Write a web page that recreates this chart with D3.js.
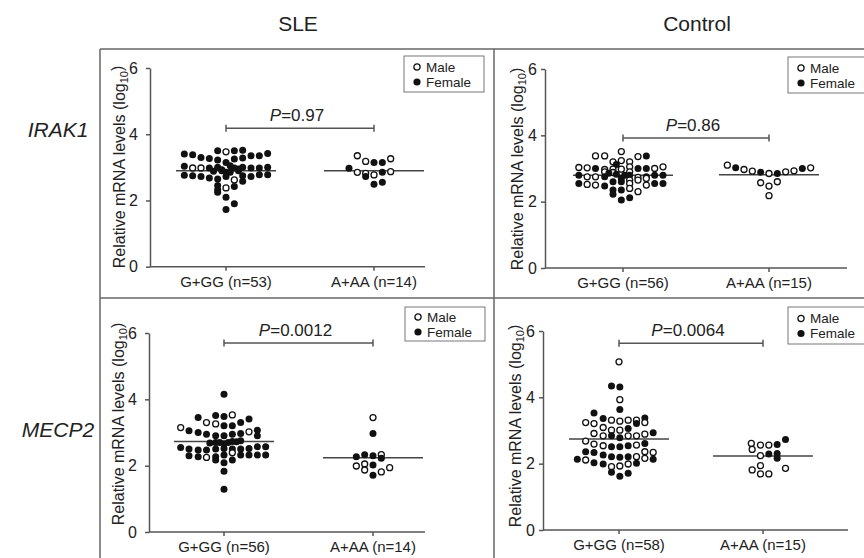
<!DOCTYPE html>
<html>
<head>
<meta charset="utf-8">
<script src="https://cdn.jsdelivr.net/npm/d3@7"></script>
<style>
  body { margin: 0; background: #fff; }
  svg { font-family: "Liberation Sans", Arial, sans-serif; }
</style>
</head>
<body>
<div id="chart"></div>
<script>
// genotype groups on the x axis
var categories = ["G+GG", "A+AA"];
var groups = ["SLE", "Control"];
var genes = ["IRAK1", "MECP2"];
var yTicks = [0, 2, 4, 6];

// group sizes
var sleIrak1N = [53, 14];
var ctrlIrak1N = [56, 15];
var sleMecp2N = [56, 14];
var ctrlMecp2N = [58, 15];

// medians (horizontal bars)
var sleIrak1Median = [2.9, 2.9];
var ctrlIrak1Median = [2.8, 2.81];
var sleMecp2Median = [2.73, 2.24];
var ctrlMecp2Median = [2.74, 2.23];

// p values and height of the comparison bracket
var pValues = ["0.97", "0.86", "0.0012", "0.0064"];
var bracketLevels = [4.18, 3.92, 5.7, 5.63];

// points: [column in the scatter, log10 level, sex] m = male (open), f = female (filled)
var sleIrak1GG = [
  [-5,3.40,'f'],[-4,3.38,'f'],[-3,3.30,'f'],[-2,3.27,'f'],[-1,3.50,'f'],[0,3.47,'m'],[1,3.50,'f'],[2,3.52,'f'],[3,3.35,'f'],[4,3.35,'f'],[5,3.42,'f'],
  [-1,3.22,'f'],[0,3.15,'f'],[1,3.25,'f'],[2,3.28,'f'],
  [-5,3.03,'f'],[-4,2.98,'m'],[-3,2.98,'m'],[-2,2.98,'f'],[-1,3.0,'f'],[-0.5,2.93,'f'],[0.5,3.05,'f'],[1,2.98,'f'],[1.5,2.95,'f'],[2,3.0,'f'],[3,2.98,'f'],[4,2.98,'f'],[5,3.0,'f'],
  [-1.5,2.88,'f'],[0,2.85,'f'],[-0.5,2.9,'f'],[0.5,2.85,'f'],[1.5,2.9,'f'],
  [-5,2.76,'f'],[-4,2.75,'f'],[-3,2.72,'f'],[-2,2.68,'f'],[-1,2.65,'f'],[0,2.72,'f'],[1,2.62,'m'],[2,2.75,'f'],[3,2.72,'f'],[4,2.78,'f'],[5,2.78,'f'],
  [-1,2.45,'f'],[-1,2.32,'f'],[-1,2.25,'f'],[0,2.38,'m'],[1,2.42,'f'],[0,2.1,'f'],[1,1.9,'f'],[0,1.73,'f'],[2,2.58,'f']
];
var sleIrak1AA = [
  [-3,2.97,'f'],[-2,3.35,'m'],[-1,3.18,'m'],[0,3.15,'f'],[1,3.15,'f'],[2,3.26,'m'],
  [-2,2.85,'m'],[-1,2.82,'m'],[0,2.77,'m'],[1,2.85,'f'],[2,2.87,'m'],
  [-1,2.72,'f'],[0,2.49,'f'],[1,2.55,'f']
];
var ctrlIrak1GG = [
  [-3.3,3.38,'m'],[-2.2,3.38,'m'],[-0.2,3.51,'m'],[1.8,3.36,'m'],[2.8,3.38,'f'],
  [-1.2,3.2,'m'],[-0.2,3.24,'m'],[0.8,3.2,'m'],[-0.8,3.12,'f'],[0.8,3.05,'m'],
  [-5.3,3.03,'m'],[-4.3,3.02,'m'],[-3.3,3.0,'f'],[-2.2,2.97,'m'],[-1.2,2.98,'m'],[-0.2,2.98,'m'],[1.8,3.0,'f'],[2.8,3.0,'f'],[3.8,3.0,'m'],[4.8,3.05,'m'],
  [-2.2,2.9,'m'],[-1.2,2.88,'m'],[0.8,2.9,'m'],
  [-5.3,2.8,'f'],[-4.3,2.75,'m'],[-3.3,2.75,'m'],[-2.2,2.75,'f'],[-1.7,2.86,'f'],[-0.8,2.83,'f'],[0.2,2.8,'f'],[0.8,2.8,'f'],[1.8,2.73,'m'],[2.8,2.75,'f'],[3.8,2.8,'f'],[4.8,2.8,'f'],
  [-0.2,2.7,'f'],[2.8,2.7,'m'],
  [-5.3,2.55,'f'],[-4.3,2.52,'m'],[-3.3,2.5,'m'],[-2.2,2.47,'f'],[-1.2,2.6,'f'],[-0.2,2.6,'f'],[0.8,2.65,'m'],[1.8,2.65,'m'],[2.8,2.5,'m'],[3.8,2.55,'f'],[4.8,2.55,'f'],[0.8,2.55,'m'],
  [-1.2,2.35,'f'],[0.8,2.4,'m'],[1.8,2.3,'m'],[-0.2,2.35,'f'],
  [-1.2,2.22,'f'],
  [-0.2,2.05,'f'],[0.8,2.12,'f']
];
var ctrlIrak1AA = [
  [-5,3.1,'m'],[-4,3.02,'f'],[-3,2.97,'m'],[-2,2.92,'m'],[-1,2.89,'f'],[0,2.85,'m'],[1,2.85,'f'],[2,2.9,'m'],[3,2.93,'m'],[4,3.0,'f'],[5,3.02,'m'],
  [-1,2.57,'m'],[0,2.47,'m'],[1,2.6,'m'],[0,2.18,'m']
];
var sleMecp2GG = [
  [0,4.15,'f'],
  [-3.1,3.45,'f'],[-1,3.51,'f'],[0,3.48,'f'],[1,3.53,'m'],[3,3.41,'f'],
  [-5.2,3.15,'m'],[-4.2,3.05,'f'],[-2.1,3.3,'m'],[-1,3.26,'m'],[0,3.2,'f'],[1,3.2,'f'],[2,3.3,'f'],[3,3.02,'m'],[4,3.07,'f'],
  [-3.1,3.0,'f'],[-2.1,2.95,'f'],[-1,2.9,'f'],[0,2.9,'f'],[1,2.95,'f'],[2,2.97,'f'],[4,2.9,'f'],
  [-1.7,2.68,'f'],[-1,2.7,'f'],[-0.5,2.7,'f'],[0,2.66,'f'],[0.5,2.7,'f'],[1,2.73,'f'],[1.5,2.72,'f'],[2,2.75,'f'],
  [-5.2,2.55,'f'],[-4.2,2.5,'f'],[-3.1,2.47,'f'],[-2.1,2.47,'f'],[-1,2.5,'f'],[0,2.52,'f'],[1,2.5,'f'],[2,2.5,'f'],[3,2.52,'f'],[4,2.57,'f'],[5,2.57,'f'],
  [-4.2,2.3,'f'],[-3.1,2.27,'f'],[-2.1,2.25,'m'],[-1,2.27,'f'],[0,2.32,'f'],[1,2.39,'m'],[2,2.32,'f'],[3,2.32,'f'],[4,2.32,'f'],[5,2.32,'f'],
  [-1,2.17,'f'],[0,2.09,'f'],[1,2.17,'f'],
  [0,1.83,'f'],
  [0,1.29,'f']
];
var sleMecp2AA = [
  [0,3.45,'m'],[0,2.97,'f'],
  [-2,2.27,'f'],[-1,2.33,'f'],[0,2.3,'f'],[1,2.33,'m'],[1,2.22,'f'],
  [-2,1.99,'m'],[-1,2.05,'m'],[0,2.02,'f'],[-1,1.87,'m'],[1,1.81,'m'],[2,1.94,'m'],
  [0,1.71,'f']
];
var ctrlMecp2GG = [
  [0,5.07,'m'],[-0.9,4.34,'f'],[0.1,4.31,'f'],[0.1,3.93,'m'],[0.1,3.63,'f'],[-3,3.53,'f'],
  [-4,3.24,'m'],[-3,3.21,'m'],[-1.9,3.36,'f'],[-0.9,3.31,'m'],[0.1,3.28,'m'],[1.1,3.31,'m'],[2.1,3.31,'m'],[2.1,3.21,'f'],[3.1,3.38,'f'],[3.1,3.24,'m'],
  [-1.9,3.09,'m'],[-0.9,3.01,'m'],[0.1,3.01,'m'],[1.1,3.06,'f'],[4.1,2.93,'f'],
  [-3,2.91,'m'],[-1.9,2.84,'m'],[-0.9,2.84,'f'],[1.1,2.84,'m'],[0.1,2.78,'f'],[2.1,2.84,'m'],[3.1,2.89,'m'],
  [-4,2.68,'m'],[-3,2.59,'m'],[-1.9,2.54,'m'],[-0.9,2.51,'f'],[0.1,2.51,'f'],[1.1,2.54,'f'],[2.1,2.56,'m'],[3.1,2.61,'f'],
  [-4,2.36,'f'],[-3,2.34,'f'],[3.1,2.36,'m'],[4.1,2.34,'m'],
  [-1.9,2.26,'f'],[-0.9,2.21,'f'],[0.1,2.19,'f'],[1.1,2.21,'f'],[2.1,2.21,'m'],[3.1,2.16,'m'],
  [-5,2.13,'f'],[-4,2.11,'m'],[4.1,2.13,'f'],
  [-3,2.03,'f'],[-1.9,1.99,'f'],[-0.9,1.91,'m'],[0.1,1.93,'m'],[1.1,1.99,'m'],[2.1,2.01,'f'],
  [-0.9,1.74,'f'],[1.1,1.71,'f'],[0.1,1.62,'f']
];
var ctrlMecp2AA = [
  [-1.4,2.61,'m'],[-0.3,2.56,'m'],[0.7,2.56,'m'],[1.7,2.58,'f'],[2.7,2.73,'f'],
  [-1.3,2.43,'m'],
  [-0.3,2.24,'m'],[0.7,2.29,'f'],[1.7,2.31,'f'],
  [1.7,2.16,'f'],
  [-0.3,1.94,'m'],[-1.3,1.81,'m'],[2.7,1.86,'m'],
  [-0.3,1.69,'m'],[0.7,1.69,'m']
];
var legendLabels = [["m", "Male"], ["f", "Female"]];

var width = 864, height = 558;
var axisColor = "#555", frameColor = "#666", ink = "#111";

var svg = d3.select("#chart").append("svg")
    .attr("width", width)
    .attr("height", height);

// panel geometry (pixel layout)
var panels = [
  {pts: [sleIrak1GG, sleIrak1AA], n: sleIrak1N, med: sleIrak1Median, p: pValues[0], br: bracketLevels[0],
   ax: 150, xEnd: 425, y0: 266.7, y6: 68, cx: [226, 374], lab: 119, labY: 167, pad: 8, leg: [404, 56, 36]},
  {pts: [ctrlIrak1GG, ctrlIrak1AA], n: ctrlIrak1N, med: ctrlIrak1Median, p: pValues[1], br: bracketLevels[1],
   ax: 545, xEnd: 847, y0: 268, y6: 69, cx: [623, 769], lab: 517.5, labY: 169, pad: 4, leg: [788, 57, 36]},
  {pts: [sleMecp2GG, sleMecp2AA], n: sleMecp2N, med: sleMecp2Median, p: pValues[2], br: bracketLevels[2],
   ax: 149, xEnd: 425, y0: 532, y6: 333, cx: [224, 373], lab: 118.5, labY: 424, pad: 8, leg: [405, 307, 34]},
  {pts: [ctrlMecp2GG, ctrlMecp2AA], n: ctrlMecp2N, med: ctrlMecp2Median, p: pValues[3], br: bracketLevels[3],
   ax: 543, xEnd: 848, y0: 530, y6: 331, cx: [619, 763], lab: 515.5, labY: 426, pad: 4, leg: [788, 307, 37]}
];

// frame
var frame = svg.append("g").attr("stroke", frameColor).attr("stroke-width", 1.5).attr("fill", "none");
frame.append("line").attr("x1", 100).attr("x2", 100).attr("y1", 49).attr("y2", height);
frame.append("line").attr("x1", 100).attr("x2", width).attr("y1", 49).attr("y2", 49);
frame.append("line").attr("x1", 494).attr("x2", 494).attr("y1", 49).attr("y2", height);
frame.append("line").attr("x1", 100).attr("x2", width).attr("y1", 298).attr("y2", 298);

// column headers and row labels
svg.selectAll(".group").data(groups).enter().append("text")
    .attr("x", function(d, i) { return i === 0 ? 298 : 697; })
    .attr("y", 31)
    .attr("text-anchor", "middle")
    .style("font-size", "21px")
    .attr("fill", "#222")
    .text(function(d) { return d; });

svg.selectAll(".gene").data(genes).enter().append("text")
    .attr("x", 58)
    .attr("y", function(d, i) { return i === 0 ? 137 : 437; })
    .attr("text-anchor", "middle")
    .style("font-size", "21px")
    .style("font-style", "italic")
    .attr("fill", "#222")
    .text(function(d) { return d; });

var colScale = d3.scaleLinear().domain([-6, 6]).range([-50, 50]);

panels.forEach(function(p) {
  var y = d3.scaleLinear().domain([0, 6]).range([p.y0, p.y6]);
  var x = d3.scalePoint().domain(categories).range(p.cx);
  var g = svg.append("g");

  // y axis
  var yAxis = g.append("g")
      .attr("transform", "translate(" + p.ax + ",0)")
      .call(d3.axisLeft(y).tickValues(yTicks).tickFormat(d3.format("d"))
        .tickSize(4).tickSizeOuter(0).tickPadding(p.pad));
  yAxis.select(".domain").attr("stroke", axisColor).attr("stroke-width", 1.5);
  yAxis.selectAll(".tick line").attr("stroke", axisColor).attr("stroke-width", 1.5);
  yAxis.selectAll(".tick text").style("font-size", "16px").attr("fill", "#222")
      .style("font-family", "'Liberation Sans', Arial, sans-serif");

  // x axis
  g.append("line")
      .attr("x1", p.ax).attr("x2", p.xEnd)
      .attr("y1", y(0)).attr("y2", y(0))
      .attr("stroke", axisColor).attr("stroke-width", 1.5);
  categories.forEach(function(c, i) {
    g.append("line")
        .attr("x1", x(c)).attr("x2", x(c))
        .attr("y1", y(0)).attr("y2", y(0) + 4)
        .attr("stroke", axisColor).attr("stroke-width", 1.5);
    g.append("text")
        .attr("x", x(c))
        .attr("y", y(0) + 20)
        .attr("text-anchor", "middle")
        .style("font-size", "15px")
        .attr("fill", "#222")
        .text(c + " (n=" + p.n[i] + ")");
  });

  // y axis title
  var t = g.append("text")
      .attr("transform", "translate(" + p.lab + "," + p.labY + ") rotate(-90)")
      .attr("text-anchor", "middle")
      .attr("dy", "0.35em")
      .style("font-size", "16px")
      .attr("fill", "#222");
  t.append("tspan").text("Relative mRNA levels (log");
  t.append("tspan").attr("dy", "0.3em").style("font-size", "11px").text("10");
  t.append("tspan").attr("dy", "-0.3em").text(")");

  // medians
  categories.forEach(function(c, i) {
    g.append("line")
        .attr("x1", x(c) + colScale(-6)).attr("x2", x(c) + colScale(6))
        .attr("y1", y(p.med[i])).attr("y2", y(p.med[i]))
        .attr("stroke", "#444").attr("stroke-width", 1.5);
  });

  // points
  categories.forEach(function(c, i) {
    g.selectAll(".pt" + i).data(p.pts[i]).enter().append("circle")
        .attr("cx", function(d) { return x(c) + colScale(d[0]); })
        .attr("cy", function(d) { return y(d[1]); })
        .attr("r", function(d) { return d[2] === "f" ? 3.5 : 3; })
        .attr("fill", function(d) { return d[2] === "f" ? ink : "#fff"; })
        .attr("stroke", ink)
        .attr("stroke-width", function(d) { return d[2] === "f" ? 0 : 1.3; });
  });

  // comparison bracket
  var by = y(p.br);
  var x1 = x(categories[0]), x2 = x(categories[1]);
  var br = g.append("g").attr("stroke", axisColor).attr("stroke-width", 1.5);
  br.append("line").attr("x1", x1).attr("x2", x2).attr("y1", by).attr("y2", by);
  br.append("line").attr("x1", x1).attr("x2", x1).attr("y1", by - 3.5).attr("y2", by + 3.5);
  br.append("line").attr("x1", x2).attr("x2", x2).attr("y1", by - 3.5).attr("y2", by + 3.5);
  var pt = g.append("text")
      .attr("x", (x1 + x2) / 2 - 3)
      .attr("y", by - 7)
      .attr("text-anchor", "middle")
      .style("font-size", "17px")
      .attr("fill", "#222");
  pt.append("tspan").style("font-style", "italic").text("P");
  pt.append("tspan").text("=" + p.p);

  // legend
  var lg = g.append("g").attr("transform", "translate(" + p.leg[0] + "," + p.leg[1] + ")");
  lg.append("rect")
      .attr("width", 80).attr("height", p.leg[2])
      .attr("fill", "#fff").attr("stroke", "#777").attr("stroke-width", 1);
  var items = lg.selectAll(".item").data(legendLabels).enter().append("g")
      .attr("transform", function(d, i) { return "translate(0," + (p.leg[2] / 2 - 7 + i * 15) + ")"; });
  items.append("circle")
      .attr("cx", 13).attr("cy", 0)
      .attr("r", function(d) { return d[0] === "f" ? 3.6 : 3.1; })
      .attr("fill", function(d) { return d[0] === "f" ? ink : "#fff"; })
      .attr("stroke", ink)
      .attr("stroke-width", function(d) { return d[0] === "f" ? 0 : 1.3; });
  items.append("text")
      .attr("x", 22).attr("y", 4.5)
      .style("font-size", "13.5px")
      .attr("fill", "#222")
      .text(function(d) { return d[1]; });
});
</script>
</body>
</html>
